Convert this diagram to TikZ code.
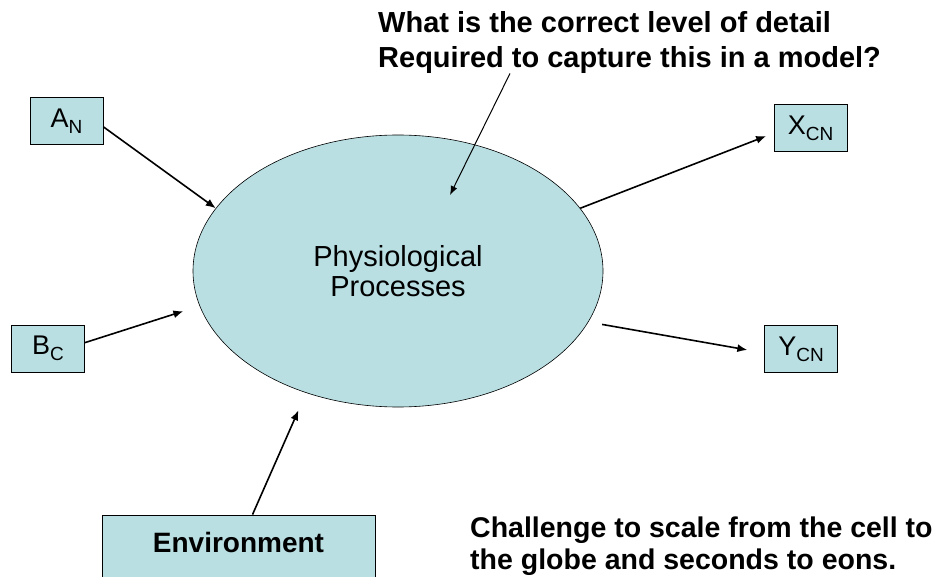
\documentclass[tikz,border=0pt]{standalone}
\usepackage{fontspec}
\setmainfont{Liberation Sans}
\usetikzlibrary{shapes.geometric}
\usetikzlibrary{arrows.meta}
\definecolor{fillColor}{RGB}{185,223,227}
\newcommand{\boxSub}[1]{\raisebox{-6pt}{\fontsize{19}{19}\selectfont #1}}

\begin{document}
\begin{tikzpicture}[x=1pt,y=-1pt]

          \tikzstyle{boxNode} = [draw, fill=fillColor, line width=0.8pt, minimum width=73pt, minimum height=47pt, inner sep=0pt, font=\fontsize{27}{27}\selectfont];
          \tikzstyle{envNode} = [boxNode, minimum width=273pt, minimum height=65pt, text depth=10pt, font=\bfseries\fontsize{28}{28}\selectfont];
          \tikzstyle{processNode} = [ellipse, draw, fill=fillColor, line width=0.6pt, minimum width=410pt, minimum height=272pt, inner sep=0pt, align=center, font=\fontsize{29}{30}\selectfont];
          \tikzstyle{noteNode} = [anchor=north west, inner sep=0pt, align=left, font=\bfseries\fontsize{29}{35}\selectfont];

          \tikzstyle{normalEdge} = [line width=1.6pt, -{Latex[length=10pt,width=8pt]}];
          \tikzstyle{thinEdge} = [line width=1pt, -{Latex[length=9pt,width=7pt]}];

          \useasboundingbox (0,0) rectangle (939,577);

          \node[processNode] (proc) at (398,271) {Physiological\\Processes};
          \node[boxNode] (A) at (66.5,121) {A\boxSub{N}};
          \node[boxNode] (B) at (48,348.5) {B\boxSub{C}};
          \node[boxNode] (X) at (810.5,128) {X\boxSub{CN}};
          \node[boxNode] (Y) at (801,349) {Y\boxSub{CN}};
          \node[envNode] (env) at (238.5,547.5) {Environment};
          \node[noteNode] (question) at (378,11) {What is the correct level of detail\\Required to capture this in a model?};
          \node[noteNode, font=\bfseries\fontsize{28.5}{32}\selectfont] (challenge) at (470,517) {Challenge to scale from the cell to\\the globe and seconds to eons.};
          \coordinate (focus) at (450,195);

          \draw[normalEdge] (A.-9) -- (proc.161);
          \draw[normalEdge, shorten >=17pt] (B.9) -- (proc.190);
          \draw[normalEdge, shorten >=8pt] (proc.19) -- (X.188);
          \draw[normalEdge, shorten <=14pt, shorten >=17pt] (proc.-15) -- (Y.186);
          \draw[normalEdge, shorten >=19pt] ([xshift=14pt]env.north) -- (proc.233);
          \draw[thinEdge] ([xshift=132pt]question.south west) -- (focus);
        \end{tikzpicture}
\end{document}
